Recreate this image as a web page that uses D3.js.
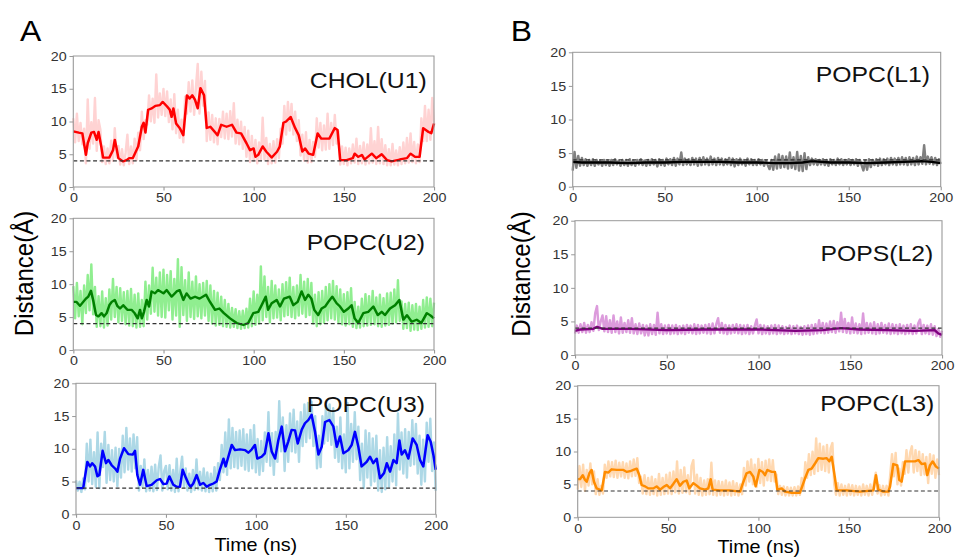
<!DOCTYPE html>
<html lang="en">
<head>
<meta charset="UTF-8">
<title>Distance vs time</title>
<script src="https://d3js.org/d3.v7.min.js"></script>
<style>
  body { margin: 0; background: #fff; }
  svg { display: block; font-family: "Liberation Sans", Arial, sans-serif; }
  .tick text { fill: #333; font-size: 13px; font-family: "Liberation Sans", Arial, sans-serif; }
  .tick line { stroke: #999; }
</style>
</head>
<body>
<svg width="956" height="557"></svg>
<script>
// time axis (ns) for the raw traces, one sample per ns
const rawTime = d3.range(0, 201);
const yTicks = [0, 5, 10, 15, 20];
const xTicks = [0, 50, 100, 150, 200];
const cutoff = 4;

// --- CHOL(U1) ---
const u1Raw = [
  10.5, 6.8, 11.2, 7.0, 9.8, 6.5, 8.9, 3.6, 13.4, 5.8,
  9.9, 6.6, 13.6, 5.5, 10.2, 8.8, 3.8, 6.2, 3.5, 5.9,
  3.6, 7.1, 4.0, 9.0, 4.5, 6.3, 3.4, 5.8, 3.3, 5.2,
  8.0, 3.5, 6.2, 3.6, 7.4, 4.1, 8.3, 5.6, 11.5, 7.3,
  10.2, 9.5, 14.0, 10.0, 13.5, 9.8, 17.2, 10.6, 14.3, 11.0,
  15.0, 10.8, 14.6, 9.9, 13.4, 8.8, 14.2, 8.2, 11.8, 7.5,
  10.3, 6.8, 13.8, 11.2, 16.0, 11.5, 16.3, 11.0, 15.2, 18.8,
  11.2, 17.6, 12.4, 16.2, 7.0, 11.4, 7.2, 11.0, 6.8, 10.5,
  6.5, 10.4, 7.6, 11.5, 7.4, 11.2, 7.3, 11.6, 7.7, 12.8,
  6.6, 10.3, 6.5, 10.0, 5.8, 9.2, 4.6, 8.6, 3.8, 7.8,
  4.0, 7.2, 3.6, 6.8, 4.1, 10.6, 4.2, 7.5, 3.5, 6.6,
  3.6, 7.0, 3.7, 7.3, 4.4, 8.9, 6.6, 12.4, 8.0, 13.0,
  8.6, 12.7, 8.0, 11.5, 7.0, 10.2, 4.8, 8.0, 4.0, 8.4,
  3.7, 7.2, 3.8, 6.9, 4.6, 10.5, 6.0, 9.8, 5.6, 9.4,
  5.7, 11.2, 5.8, 9.8, 6.4, 11.0, 6.6, 8.5, 3.4, 6.2,
  3.5, 6.0, 3.3, 5.9, 3.6, 6.5, 3.7, 7.4, 3.5, 6.3,
  3.6, 6.8, 3.4, 6.5, 3.6, 9.0, 3.7, 7.0, 3.5, 9.2,
  3.6, 7.3, 3.5, 6.4, 3.3, 5.8, 3.3, 6.6, 3.4, 5.6,
  3.3, 6.1, 3.5, 6.8, 3.6, 7.5, 3.7, 8.2, 3.8, 6.9,
  3.6, 6.5, 3.8, 10.5, 7.0, 12.4, 7.0, 11.8, 7.2, 13.6, 9.5
];
const u1Smooth = [
  [0, 8.5], [3, 8.3], [5, 8.2], [7, 4.9], [8, 6.7], [10, 8.3], [11.5, 8.4], [13, 7.2], [14, 8.4],
  [15.5, 6.2], [16.5, 4.5], [20, 4.5], [22, 5.6], [23, 7.2], [24, 5.9], [25, 4.4], [27.5, 3.9],
  [29.5, 4.1], [31, 4.4], [33, 4.4], [36, 6.2], [38, 9.2], [39, 9.8], [40, 8.3], [41.5, 11.8],
  [43.5, 12], [45.5, 12.4], [48, 12.5], [49.5, 13], [52, 12.3], [53.5, 11.8], [54.5, 10.7],
  [55.5, 12], [57, 9.7], [59, 9], [61, 7.9], [63, 14], [64.5, 13.5], [66, 14], [67.5, 13.3],
  [69, 12], [70.5, 15.1], [72.5, 14], [74, 9], [76, 9.2], [78.5, 8.4], [80, 7.9], [82, 9.5],
  [85, 9.2], [88, 9.5], [90.5, 8.3], [93, 8.2], [96, 6.7], [98, 5.6], [100, 5.9], [101, 4.6],
  [102.5, 4.9], [105, 6.2], [107, 5.4], [110, 4.5], [113, 5.4], [114.5, 6.2], [116.5, 9.8],
  [118, 10], [120.5, 10.7], [123, 9], [125, 7.9], [127, 5.4], [128.5, 5.9], [130.5, 5.1],
  [133, 4.9], [135.5, 8.2], [137.5, 7.4], [142, 7.4], [145, 9], [146.5, 8.7], [148, 4.1],
  [151.5, 4.1], [155, 4.4], [156, 5.1], [158, 4.6], [160, 4.9], [161.5, 4.2], [165.5, 5.1],
  [168, 4.4], [171, 5], [174, 4.1], [176.5, 3.9], [181, 4.2], [185, 4.4], [187, 5.1],
  [189.5, 4.6], [192, 4.6], [194, 9], [197, 8.4], [198.5, 8.2], [200, 9.7]
];

// --- POPC(U2) ---
const u2Raw = [
  9.7, 4.8, 10.2, 5.1, 9.0, 3.9, 9.8, 5.6, 11.4, 6.0,
  13.0, 5.4, 9.6, 3.5, 8.2, 3.6, 8.9, 3.4, 7.9, 3.7,
  9.2, 4.6, 10.8, 5.0, 9.6, 4.2, 9.4, 4.4, 8.8, 3.9,
  9.0, 3.7, 9.3, 3.6, 8.4, 3.4, 8.6, 3.5, 7.6, 3.6,
  10.4, 4.6, 9.8, 5.5, 12.5, 5.8, 11.0, 5.2, 11.8, 5.0,
  12.2, 4.9, 11.4, 6.0, 12.0, 4.6, 10.8, 5.2, 13.8, 3.5,
  12.6, 5.3, 10.6, 4.4, 11.8, 5.0, 10.4, 4.7, 11.2, 5.1,
  10.0, 4.8, 10.2, 5.2, 10.5, 4.4, 9.8, 4.0, 9.0, 3.7,
  8.7, 3.8, 8.1, 3.6, 7.6, 3.5, 7.0, 3.4, 6.4, 3.5,
  6.2, 3.3, 5.9, 3.2, 6.0, 3.3, 6.3, 3.4, 7.8, 3.6,
  8.9, 3.8, 8.4, 4.0, 12.7, 4.5, 11.2, 5.0, 9.6, 4.2,
  10.5, 4.8, 9.8, 4.9, 9.2, 4.5, 10.0, 5.1, 10.3, 5.3,
  11.0, 5.0, 9.6, 4.8, 9.8, 5.2, 11.4, 5.5, 10.4, 5.0,
  10.8, 5.3, 10.2, 4.0, 8.4, 3.6, 8.8, 3.9, 9.0, 4.1,
  9.6, 4.5, 10.0, 4.8, 10.5, 4.6, 9.7, 4.2, 9.2, 3.9,
  8.5, 3.7, 8.8, 3.9, 9.4, 3.5, 7.3, 3.3, 6.6, 3.4,
  7.8, 3.6, 8.5, 3.7, 8.2, 3.8, 9.0, 3.9, 8.0, 3.6,
  8.4, 3.5, 7.9, 3.7, 8.6, 3.8, 8.7, 4.0, 9.2, 4.2,
  10.6, 4.4, 7.4, 3.2, 7.0, 3.3, 7.2, 2.9, 6.8, 3.1,
  7.0, 3.0, 6.6, 3.2, 7.6, 3.4, 8.0, 3.5, 7.8, 3.6, 7.2
];
const u2Smooth = [
  [0, 7.3], [1.8, 7.3], [3.7, 6.7], [5.5, 7.3], [7, 7.8], [8.3, 8.1], [9.8, 9.0], [11, 7.6],
  [12.6, 5.3], [13.9, 5.1], [15.7, 5.6], [17, 5.1], [18.5, 5.6], [20, 6.8], [21.3, 7.3], [23, 7.6],
  [24.4, 6.7], [25.9, 6.3], [27.7, 6.8], [30, 6.1], [32.3, 6.1], [34, 5.6], [35.7, 4.8], [37, 6.1],
  [38, 4.8], [39.2, 5.8], [40.7, 7.6], [42, 6.6], [43.4, 8.9], [45.3, 8.6], [47, 9.1], [50, 8.6],
  [51.8, 9.1], [54.5, 8.1], [57.3, 8.9], [59, 9.1], [61, 7.6], [62.8, 8.6], [65, 7.8], [67.5, 8.1],
  [70, 7.8], [73.6, 8.4], [75.8, 7.3], [78.6, 6.1], [81, 6.3], [83.5, 5.6], [86.9, 4.8], [90.6, 4.1],
  [94.3, 3.8], [97, 4.1], [99.8, 5.6], [102.6, 5.8], [104.4, 6.8], [106.7, 8.1], [108, 6.1], [110, 7.1],
  [112.8, 7.6], [114.6, 6.6], [116.8, 7.8], [120, 8.1], [122, 6.8], [124.4, 7.3], [126.6, 8.9],
  [128.5, 7.6], [130.3, 8.4], [132, 7.8], [133.6, 6.1], [135.8, 5.3], [137.7, 6.3], [139.6, 6.6],
  [141.4, 7.3], [143.6, 8.1], [146, 7.1], [147.9, 6.6], [150, 5.8], [152.5, 6.3], [154.3, 6.8],
  [156, 4.8], [158, 4.1], [160.8, 5.6], [163.6, 5.8], [166.4, 6.6], [168.8, 5.3], [171, 5.8],
  [172.8, 5.3], [175.6, 6.3], [178.4, 6.8], [180.8, 7.6], [183, 4.6], [185, 5.3], [187.6, 4.3],
  [190.4, 4.6], [193, 4.1], [196, 5.6], [197.8, 5.3], [200, 4.8]
];

// --- POPC(U3) ---
const u3Raw = [
  5.2, 3.6, 5.0, 3.4, 5.5, 3.8, 10.8, 5.0, 11.4, 4.6,
  9.5, 4.2, 12.5, 4.0, 10.8, 7.2, 12.6, 4.8, 10.6, 5.2,
  9.8, 5.0, 10.2, 4.3, 10.0, 5.6, 12.0, 6.4, 13.2, 6.8,
  11.6, 6.5, 12.2, 7.0, 11.8, 3.6, 7.4, 4.2, 8.4, 3.5,
  6.8, 3.6, 7.3, 3.5, 7.6, 3.7, 7.2, 9.0, 3.6, 6.6,
  7.4, 3.8, 7.5, 3.6, 6.8, 3.4, 8.5, 3.5, 6.6, 8.8,
  4.2, 7.0, 3.6, 6.2, 3.4, 6.8, 3.7, 8.4, 3.8, 6.5,
  3.6, 7.0, 3.5, 6.4, 3.4, 6.2, 3.5, 7.2, 3.6, 7.8,
  5.2, 10.6, 6.4, 12.5, 6.0, 14.5, 7.0, 13.2, 7.2, 12.6,
  7.0, 12.8, 7.4, 13.0, 6.8, 12.2, 6.6, 12.9, 7.0, 13.6,
  6.4, 11.5, 6.0, 11.2, 6.6, 12.5, 8.0, 15.6, 7.4, 12.4,
  6.0, 12.6, 8.0, 17.3, 9.6, 14.8, 6.6, 13.6, 8.0, 15.4,
  9.6, 16.0, 9.4, 14.2, 8.0, 15.6, 10.4, 16.8, 11.0, 17.0,
  11.6, 17.2, 10.4, 15.0, 7.0, 12.0, 7.2, 15.0, 10.8, 16.6,
  11.2, 16.8, 10.6, 16.2, 8.6, 13.4, 8.0, 14.8, 7.0, 12.2,
  6.4, 17.0, 7.0, 13.8, 8.0, 15.6, 8.4, 13.4, 5.2, 10.8,
  4.0, 12.8, 5.6, 12.4, 4.4, 11.6, 5.0, 12.0, 3.6, 9.8,
  3.4, 10.2, 3.8, 11.8, 4.2, 10.4, 5.0, 12.2, 4.4, 15.4,
  6.8, 12.5, 6.2, 13.0, 5.6, 12.6, 7.4, 14.4, 7.6, 13.8,
  6.2, 12.0, 4.5, 11.4, 5.0, 14.0, 8.0, 14.6, 6.6, 11.0, 3.6
];
const u3Smooth = [
  [0, 4.0], [4, 4.0], [6.3, 8.0], [7.8, 7.3], [9, 7.8], [10.6, 7.3], [11.9, 5.8], [13, 6.0],
  [14.8, 9.7], [16.7, 7.8], [18, 8.3], [19.8, 7.5], [21.7, 7.0], [23, 6.5], [24.5, 8.5], [26.7, 10.1],
  [29.1, 9.2], [31.5, 9.1], [32.8, 9.7], [34.1, 6.0], [35.6, 4.5], [37.4, 6.8], [39.3, 4.3], [42, 4.5],
  [44.9, 5.2], [46.7, 5.4], [48.6, 4.6], [50.4, 4.7], [51.9, 5.8], [54.1, 4.5], [56, 4.2], [57.8, 4.2],
  [59.3, 6.8], [61.2, 5.5], [62.5, 4.7], [63.8, 4.2], [65.2, 4.7], [67.1, 6.0], [69, 4.5], [70.8, 4.8],
  [72.7, 4.2], [74.5, 4.5], [76.4, 4.7], [78.2, 5.0], [80, 6.8], [82, 8.5], [83.2, 7.3], [84.7, 8.8],
  [86.6, 10.6], [88.4, 9.8], [91.2, 9.9], [94, 9.8], [95.8, 9.4], [97.7, 9.9], [99.5, 10.6],
  [100.8, 8.5], [103.2, 8.8], [105, 9.3], [107, 12.4], [108.8, 9.6], [110.7, 8.5], [112.5, 11.3],
  [114.4, 13.4], [116.2, 9.6], [118, 11.1], [119.9, 12.9], [121.8, 12.8], [123.3, 10.8], [125.5, 12.9],
  [127.3, 13.9], [129.2, 14.4], [131, 15.2], [132.9, 12.6], [134.8, 9.1], [136.6, 10.3], [138.5, 14.1],
  [140.9, 14.4], [143.1, 13.4], [145, 10.3], [146.8, 11.9], [148.7, 9.3], [151.4, 9.8], [153.3, 10.6],
  [155.1, 12.6], [157, 10.3], [158.8, 7.3], [161.6, 8.0], [163.5, 8.8], [165.3, 7.8], [167.2, 8.5],
  [169, 5.5], [171.3, 6.3], [172.8, 7.8], [174.6, 6.5], [176.5, 8.3], [178.3, 7.8], [179.8, 11.3],
  [181.1, 9.1], [182.9, 9.8], [184.8, 8.5], [187.2, 11.6], [189.4, 10.6], [191.3, 8.3], [193.1, 7.3],
  [195.5, 12.1], [197.2, 11.1], [198.7, 9.1], [200, 6.8]
];

// --- POPC(L1) ---
const l1Raw = [
  2.4, 5.2, 2.8, 4.6, 3.1, 4.3, 3.2, 4.1, 3.1, 4.0,
  3.2, 4.1, 3.1, 4.0, 3.3, 3.9, 3.1, 4.0, 3.2, 3.9,
  3.1, 4.0, 3.2, 4.1, 3.3, 3.9, 3.1, 4.0, 3.2, 4.0,
  3.1, 4.1, 3.2, 3.9, 3.1, 4.0, 3.3, 4.1, 3.2, 3.9,
  3.1, 4.0, 3.2, 4.1, 3.3, 4.0, 3.0, 4.1, 3.2, 4.0,
  3.1, 4.2, 3.3, 4.1, 3.2, 4.3, 3.1, 4.2, 3.3, 5.1,
  3.2, 4.2, 3.3, 4.1, 3.2, 4.3, 3.3, 4.2, 3.1, 4.3,
  3.2, 4.4, 3.3, 4.2, 3.2, 4.5, 3.3, 4.2, 3.2, 4.3,
  3.3, 4.2, 3.2, 4.1, 3.3, 4.3, 3.2, 4.2, 3.0, 4.1,
  3.2, 4.2, 3.3, 4.0, 3.1, 4.2, 3.3, 4.1, 3.2, 4.0,
  3.2, 4.1, 3.3, 4.0, 3.1, 3.9, 3.2, 2.6, 4.0, 2.5,
  4.5, 2.7, 4.8, 2.8, 4.6, 2.9, 4.5, 2.7, 5.1, 2.8,
  4.4, 2.6, 5.2, 2.4, 4.6, 2.3, 5.0, 2.6, 4.4, 3.2,
  4.2, 3.3, 4.1, 3.2, 4.0, 3.3, 4.1, 3.2, 4.0, 3.1,
  4.1, 3.3, 4.0, 3.2, 4.2, 3.3, 4.1, 3.2, 4.0, 3.3,
  4.1, 3.2, 4.0, 3.3, 4.1, 3.1, 4.0, 3.2, 2.4, 3.9,
  2.5, 4.1, 2.9, 4.0, 3.2, 4.1, 3.1, 4.2, 3.2, 4.1,
  3.3, 4.2, 3.2, 4.3, 3.3, 4.2, 3.2, 4.3, 3.3, 4.4,
  3.3, 4.3, 3.2, 4.4, 3.3, 4.3, 3.2, 4.5, 3.3, 4.4,
  3.4, 6.2, 3.3, 4.5, 3.4, 4.4, 3.3, 4.3, 3.2, 4.1, 3.4
];
const l1Smooth = [
  [0, 3.7], [5, 3.6], [10, 3.6], [20, 3.6], [30, 3.5], [40, 3.6], [50, 3.6], [60, 3.7], [70, 3.7],
  [80, 3.7], [90, 3.6], [100, 3.6], [110, 3.5], [118, 3.5], [125, 3.6], [130, 3.8], [140, 3.6],
  [150, 3.6], [160, 3.5], [170, 3.6], [180, 3.7], [190, 3.8], [195, 3.7], [200, 3.5]
];

// --- POPS(L2) ---
const l2Raw = [
  3.2, 4.4, 3.3, 4.6, 3.4, 4.8, 3.3, 4.5, 3.4, 4.9,
  3.6, 6.2, 7.3, 3.7, 5.0, 5.9, 3.5, 5.8, 3.4, 5.2,
  3.3, 5.9, 3.4, 5.0, 3.2, 5.6, 3.3, 4.8, 3.4, 5.2,
  3.3, 5.5, 3.2, 4.6, 3.1, 4.7, 3.2, 4.5, 2.9, 4.4,
  2.9, 4.6, 3.1, 4.5, 3.0, 6.3, 3.2, 4.6, 3.1, 4.4,
  3.2, 4.5, 3.1, 4.4, 3.2, 4.5, 3.1, 4.3, 3.2, 4.4,
  3.1, 4.5, 3.3, 4.4, 3.2, 4.6, 3.1, 4.5, 3.2, 4.4,
  3.3, 4.5, 3.2, 4.6, 3.1, 4.7, 3.2, 4.6, 5.5, 3.3,
  4.8, 3.2, 4.5, 3.1, 4.4, 3.2, 4.5, 3.3, 4.6, 3.2,
  4.5, 3.1, 4.4, 3.2, 4.5, 3.1, 4.3, 3.2, 4.4, 5.3,
  3.2, 4.5, 3.1, 4.4, 3.2, 4.3, 3.1, 4.4, 3.2, 4.5,
  3.1, 4.4, 3.2, 4.3, 3.1, 4.2, 3.2, 4.4, 3.1, 4.3,
  3.2, 4.4, 3.1, 4.2, 3.0, 4.3, 3.1, 4.4, 3.0, 4.5,
  3.1, 4.6, 3.2, 5.2, 3.3, 4.8, 3.2, 4.7, 3.3, 5.0,
  3.4, 5.1, 3.3, 4.9, 3.5, 6.3, 3.4, 5.4, 3.3, 4.8,
  3.2, 5.6, 3.3, 4.7, 3.2, 4.6, 3.1, 6.2, 3.2, 4.8,
  3.3, 4.7, 3.2, 4.9, 3.1, 4.6, 3.2, 4.8, 3.3, 4.5,
  3.2, 4.7, 3.1, 4.6, 3.2, 4.5, 3.1, 4.6, 3.2, 4.4,
  3.1, 4.5, 3.2, 4.6, 3.1, 4.4, 3.2, 4.7, 5.3, 3.1,
  4.5, 3.2, 4.4, 3.1, 4.6, 3.0, 4.3, 2.8, 3.9, 2.7, 3.6
];
const l2Smooth = [
  [0, 3.6], [3, 3.8], [10, 3.9], [12, 4.2], [15, 3.9], [30, 3.9], [50, 3.7], [70, 3.8], [100, 3.8],
  [120, 3.6], [135, 3.7], [145, 4.0], [155, 3.8], [170, 3.7], [185, 3.6], [196, 3.7], [198, 3.2], [200, 3.0]
];

// --- POPC(L3) ---
const l3Raw = [
  4.2, 7.8, 4.6, 8.0, 4.0, 7.2, 4.8, 8.2, 5.0, 7.0,
  3.5, 5.8, 3.4, 4.8, 3.6, 8.0, 6.0, 8.5, 6.2, 8.4,
  6.1, 8.6, 6.0, 8.3, 6.2, 8.4, 6.0, 8.2, 5.9, 8.5,
  6.2, 8.8, 6.3, 9.0, 5.2, 6.2, 3.6, 6.4, 3.5, 6.0,
  3.4, 6.2, 3.5, 5.8, 3.3, 6.6, 3.4, 6.0, 3.5, 6.5,
  3.6, 6.8, 3.5, 7.0, 3.8, 8.5, 3.6, 7.2, 3.7, 7.6,
  3.8, 6.4, 3.5, 7.8, 8.7, 3.6, 6.5, 3.4, 6.0, 3.3,
  5.6, 3.4, 5.8, 3.5, 8.3, 3.4, 5.6, 3.3, 5.5, 3.4,
  5.4, 3.3, 5.6, 3.4, 5.3, 3.3, 5.5, 3.4, 5.2, 3.3,
  5.0, 3.5, 7.5, 4.8, 8.5, 5.4, 8.8, 5.0, 8.0, 4.6,
  8.9, 5.2, 8.4, 4.8, 8.6, 5.6, 8.8, 5.5, 8.7, 5.4,
  6.5, 3.5, 4.8, 3.4, 4.7, 3.3, 4.6, 3.3, 4.5, 3.3,
  4.6, 3.3, 4.7, 3.4, 6.0, 4.2, 8.4, 6.0, 9.6, 6.4,
  10.0, 6.6, 12.0, 7.0, 11.2, 7.2, 10.8, 7.0, 11.0, 6.8,
  10.5, 11.3, 5.0, 3.4, 5.2, 3.3, 5.0, 3.4, 4.8, 3.3,
  5.0, 3.4, 4.9, 3.3, 4.8, 3.4, 4.7, 3.3, 5.0, 3.4,
  4.8, 3.3, 5.0, 3.4, 5.2, 6.8, 3.6, 4.9, 3.3, 4.8,
  3.4, 4.8, 3.3, 6.5, 9.6, 6.2, 9.8, 5.0, 7.4, 4.8,
  8.4, 6.6, 10.2, 6.8, 9.8, 10.8, 6.8, 10.2, 7.0, 10.0,
  6.4, 9.6, 6.5, 9.2, 5.2, 9.6, 6.6, 9.4, 6.0, 8.8, 6.4
];
const l3Smooth = [
  [0, 5.8], [1.3, 5.8], [2.8, 6.4], [4, 5.7], [5, 5.4], [6.5, 6.7], [7.7, 7.2], [9, 5.4], [10.5, 4.4],
  [11.4, 4.3], [13.3, 4.1], [15.1, 6.9], [17, 6.8], [18.8, 7.3], [21.6, 7.2], [25.3, 7.2], [27.1, 6.9],
  [29, 7.0], [30.8, 7.2], [32.7, 7.4], [34.1, 6.4], [35.4, 4.9], [37.3, 4.7], [39.1, 4.4], [41.9, 4.4],
  [43.7, 4.7], [45.6, 4.2], [47.4, 4.6], [49.3, 4.9], [51.1, 4.4], [53, 5.1], [54.8, 5.8], [56.6, 4.8],
  [58.5, 5.4], [60.3, 5.6], [61.8, 4.4], [64, 5.2], [65.9, 4.8], [67.7, 4.4], [70.5, 4.2], [72.3, 4.4],
  [73.6, 5.8], [74.7, 4.2], [78.8, 4.1], [84.3, 4.1], [89.9, 3.9], [91.7, 5.4], [93.5, 6.7], [95.4, 6.9],
  [97.2, 6.2], [98.5, 4.7], [100.6, 7.2], [102.4, 6.9], [103.7, 6.4], [105, 7.2], [107.4, 6.9],
  [109.2, 6.9], [110.5, 4.2], [112.9, 4.4], [114.8, 3.9], [118.5, 3.7], [123, 3.7], [125.8, 5.9],
  [127.7, 7.2], [129.5, 7.4], [131.4, 8.2], [133.2, 9.0], [136, 8.9], [137.8, 9.0], [139.3, 8.5],
  [140.6, 9.2], [141.9, 6.9], [143.4, 4.1], [148.9, 4.1], [156.3, 3.9], [163.7, 4.1], [165.1, 6.4],
  [166.4, 4.2], [169.2, 3.9], [172, 3.9], [172.9, 4.7], [174.7, 8.1], [176.9, 7.9], [178, 5.7],
  [179.3, 5.4], [181.2, 8.5], [184, 8.5], [186.7, 8.5], [188.6, 8.7], [190.4, 8.1], [192.3, 8.2],
  [193.5, 6.4], [195, 7.9], [196.5, 8.5], [198.3, 7.7], [200, 7.4]
];

// the source picture is stretched a little horizontally, so draw in a scaled group
const SX = 1.1;

const panels = [
  { title: "CHOL(U1)", raw: u1Raw, smooth: u1Smooth, rawColor: "#ffd3d3", lineColor: "#ff0000",
    box: [73.3, 56, 434, 187], titleAt: [426.7, 88.3] },
  { title: "POPC(U2)", raw: u2Raw, smooth: u2Smooth, rawColor: "#90ee90", lineColor: "#008000",
    box: [73.3, 218.3, 434, 350], titleAt: [425, 250] },
  { title: "POPC(U3)", raw: u3Raw, smooth: u3Smooth, rawColor: "#add8e6", lineColor: "#0000ff",
    box: [76, 383.3, 435.7, 514.3], titleAt: [425, 411.7] },
  { title: "POPC(L1)", raw: l1Raw, smooth: l1Smooth, rawColor: "#808080", lineColor: "#000000",
    box: [572.7, 52.3, 940.7, 186.7], titleAt: [930, 81.7] },
  { title: "POPS(L2)", raw: l2Raw, smooth: l2Smooth, rawColor: "#dc9bdc", lineColor: "#800080",
    box: [575, 220.7, 942, 355], titleAt: [933.3, 260.7] },
  { title: "POPC(L3)", raw: l3Raw, smooth: l3Smooth, rawColor: "#ffd8b0", lineColor: "#ff8c00",
    box: [577.7, 385.7, 939, 517.3], titleAt: [934.3, 410.7] }
];

const svg = d3.select("svg");
svg.append("rect").attr("width", 956).attr("height", 557).attr("fill", "#fff");
const root = svg.append("g").attr("transform", `scale(${SX},1)`);

panels.forEach(p => {
  const [x0, y0, x1, y1] = p.box;
  const x = d3.scaleLinear().domain([0, 200]).range([x0 / SX, x1 / SX]);
  const y = d3.scaleLinear().domain([0, 20]).range([y1, y0]);
  const g = root.append("g");

  const rawLine = d3.line()
    .x((d, i) => x(rawTime[i]))
    .y(d => y(d));
  g.append("path")
    .datum(p.raw)
    .attr("d", rawLine)
    .attr("fill", "none")
    .attr("stroke", p.rawColor)
    .attr("stroke-width", 2.2)
    .attr("stroke-linejoin", "round");

  const smoothLine = d3.line()
    .x(d => x(d[0]))
    .y(d => y(d[1]));
  g.append("path")
    .datum(p.smooth)
    .attr("d", smoothLine)
    .attr("fill", "none")
    .attr("stroke", p.lineColor)
    .attr("stroke-width", 2.3)
    .attr("stroke-linejoin", "round");

  // 4 Å reference line
  g.append("line")
    .attr("x1", x(0)).attr("x2", x(200))
    .attr("y1", y(cutoff)).attr("y2", y(cutoff))
    .attr("stroke", "#333")
    .attr("stroke-width", 1.2)
    .attr("stroke-dasharray", "3.6,2.4");

  // frame
  g.append("rect")
    .attr("x", x(0)).attr("y", y(20))
    .attr("width", x(200) - x(0)).attr("height", y(0) - y(20))
    .attr("fill", "none")
    .attr("stroke", "#999")
    .attr("stroke-width", 1);

  g.append("g")
    .attr("transform", `translate(0,${y(0)})`)
    .call(d3.axisBottom(x).tickValues(xTicks).tickSize(3.5).tickPadding(2.5))
    .call(a => a.select(".domain").remove());
  g.append("g")
    .attr("transform", `translate(${x(0)},0)`)
    .call(d3.axisLeft(y).tickValues(yTicks).tickSize(3.5).tickPadding(2.5))
    .call(a => a.select(".domain").remove());

  g.append("text")
    .attr("x", p.titleAt[0] / SX)
    .attr("y", p.titleAt[1])
    .attr("text-anchor", "end")
    .attr("font-size", 22.5)
    .attr("fill", "#111")
    .text(p.title);
});

// panel letters
root.append("text").attr("x", 20 / SX).attr("y", 40.7)
  .attr("font-size", 29).attr("fill", "#000").text("A");
root.append("text").attr("x", 510.7 / SX).attr("y", 40.7)
  .attr("font-size", 29).attr("fill", "#000").text("B");

// axis titles
[[33, 273.5], [530, 274]].forEach(([cx, cy]) => {
  root.append("text")
    .attr("transform", `translate(${cx / SX},${cy}) rotate(-90)`)
    .attr("text-anchor", "middle")
    .attr("font-size", 24)
    .attr("fill", "#000")
    .text("Distance(Å)");
});
[[255.8, 550.7], [758.8, 553]].forEach(([cx, by]) => {
  root.append("text")
    .attr("x", cx / SX).attr("y", by)
    .attr("text-anchor", "middle")
    .attr("font-size", 18)
    .attr("fill", "#000")
    .text("Time (ns)");
});
</script>
</body>
</html>
